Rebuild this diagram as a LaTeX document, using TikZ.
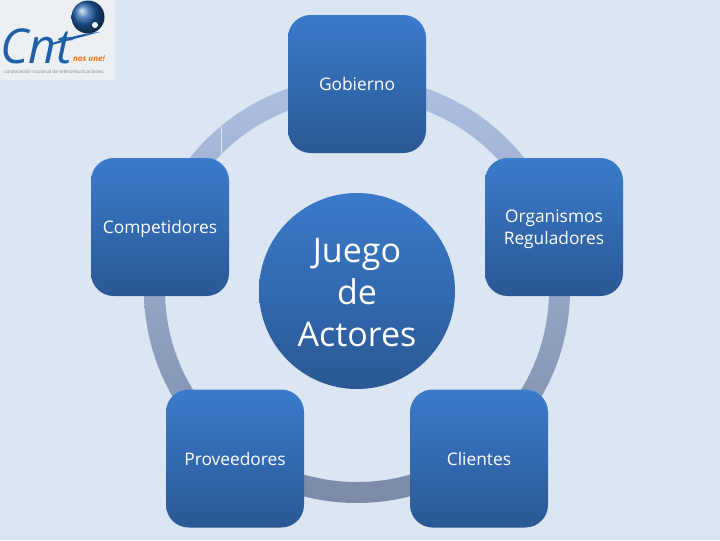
\documentclass[tikz,border=0pt]{standalone}
\usepackage{fontspec}
\setmainfont{Open Sans}
\usepackage{xcolor}
\usetikzlibrary{positioning,shapes.geometric}
\definecolor{paper}{HTML}{DCE6F2}
\definecolor{logopaper}{HTML}{EDF0F3}
\definecolor{boxtop}{HTML}{3B7BCB}
\definecolor{boxlow}{HTML}{2A5894}
\definecolor{ringtop}{HTML}{ADC0E2}
\definecolor{ringlow}{HTML}{7A8AA8}
\definecolor{cntblue}{HTML}{1F5FA8}
\definecolor{cntorange}{HTML}{E8731A}
\tikzset{
  actor/.style={rectangle, rounded corners=17pt, minimum width=103.5pt, minimum height=103.5pt, top color=boxtop, bottom color=boxlow, text=white, align=center, inner sep=0pt, font=\fontsize{13}{16.5}\selectfont},
  centre/.style={circle, minimum size=147pt, top color=boxtop, bottom color=boxlow, text=white, align=center, inner sep=0pt, font=\fontsize{25.5}{31.5}\selectfont},
  band/.style={top color=ringtop, bottom color=ringlow, even odd rule}
}
\begin{document}
\begin{tikzpicture}[x=0.75pt, y=-0.75pt]
  \useasboundingbox (0,0) rectangle (720,540);
  \fill[paper] (0,0) rectangle (720,540);
  % logo
  \fill[logopaper] (0,0) rectangle (115,80);
  \shade[ball color=cntblue] (88,17) circle[radius=16.5];
  \fill[logopaper] (95,25) circle[radius=3];
  \node[text=cntblue, inner sep=0pt, font=\fontsize{36}{36}\itshape\selectfont] (cnt) at (36,46) {Cnt};
  \fill[cntblue] (52,43) .. controls (70,37) and (85,33) .. (100,32) .. controls (85,36) and (70,40) .. (52,45) -- cycle;
  \node[text=cntorange, inner sep=0pt, font=\fontsize{6}{6}\itshape\bfseries\selectfont] (nosune) at (89,59) {nos une!};
  \node[text=black!50, font=\fontsize{3.6}{4}\selectfont, inner sep=0pt] (lema) at (54,72) {corporación nacional de telecomunicaciones};
  % ring
  \coordinate (hub) at (357,290);
  \path[band] (hub) circle[radius=213] circle[radius=192];
  \draw[paper, line width=0.75pt] (221,127) -- (221,155);
  % actors
  \node[centre] (juego) at (357,291) {\rule{0pt}{20.5pt}Juego\\de\\Actores};
  \node[actor] (gobierno) at (357,84) {Gobierno};
  \node[actor] (organismos) at (554,227) {\rule{0pt}{13.5pt}Organismos\\Reguladores};
  \node[actor] (clientes) at (479,458.5) {Clientes};
  \node[actor] (proveedores) at (235,458.5) {Proveedores};
  \node[actor] (competidores) at (160,227) {\rule{0pt}{13pt}Competidores};
\end{tikzpicture}
\end{document}
